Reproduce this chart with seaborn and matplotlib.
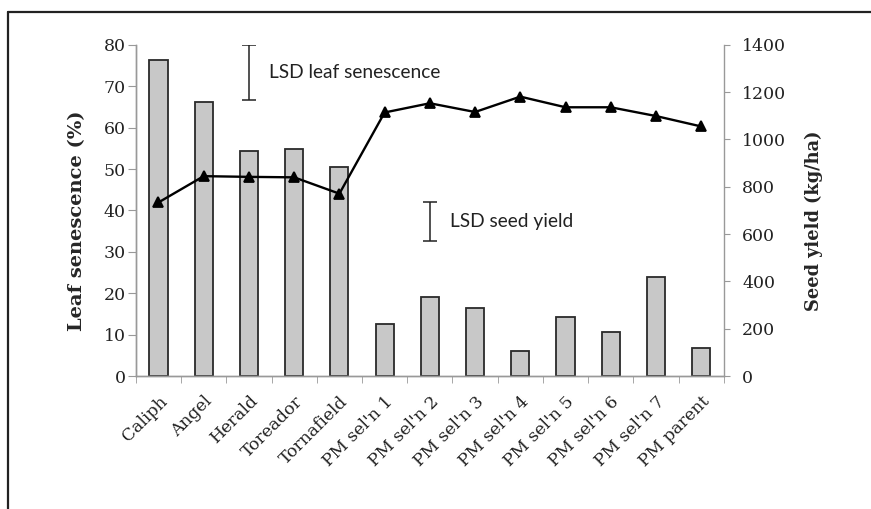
import numpy as np
import pandas as pd
import seaborn as sns
import matplotlib.pyplot as plt
from matplotlib.lines import Line2D

sns.set_style("ticks")
plt.rcParams["font.family"] = ["DejaVu Serif"]

cultivars = ["Caliph", "Angel", "Herald", "Toreador", "Tornafield",
             "PM sel'n 1", "PM sel'n 2", "PM sel'n 3", "PM sel'n 4",
             "PM sel'n 5", "PM sel'n 6", "PM sel'n 7", "PM parent"]
senescence = [76.3, 66.2, 54.3, 54.9, 50.5, 12.5, 19.0, 16.5, 6.0, 14.3, 10.6, 24.0, 6.8]
seed_yield = [734, 845, 842, 840, 771, 1114, 1153, 1116, 1181, 1136, 1136, 1099, 1055]

lsd_leaf = 13.3
lsd_leaf_mid = 73.4
lsd_seed = 165
lsd_seed_mid = 655

df = pd.DataFrame({"cultivar": cultivars, "senescence": senescence, "yield": seed_yield})

fig = plt.figure(figsize=(8.71, 5.09), dpi=100)
ax = fig.add_axes([0.156, 0.261, 0.675, 0.651])
ax2 = ax.twinx()

sns.barplot(data=df, x="cultivar", y="senescence", color="#c8c8c8",
            edgecolor="#2a2a2a", linewidth=1.3, width=0.4, saturation=1, ax=ax)
sns.pointplot(data=df, x="cultivar", y="yield", color="black", markers="^",
              markersize=7, linewidth=1.7, ax=ax2)

ax.set_xlim(-0.5, len(cultivars) - 0.5)
ax2.set_xlim(-0.5, len(cultivars) - 0.5)
ax.set_ylim(0, 80)
ax2.set_ylim(0, 1400)
ax.set_yticks(range(0, 81, 10))
ax2.set_yticks(range(0, 1401, 200))

# LSD bars
ax.errorbar(2, lsd_leaf_mid, yerr=lsd_leaf / 2, color="#222222", capsize=4.7,
            elinewidth=1.1, capthick=1.1)
ax2.errorbar(6, lsd_seed_mid, yerr=lsd_seed / 2, color="#222222", capsize=4.7,
             elinewidth=1.1, capthick=1.1)
ax.text(2.45, lsd_leaf_mid, "LSD leaf senescence", family="Lato", fontsize=13.8,
        va="center", ha="left", color="#222222")
ax2.text(6.45, lsd_seed_mid, "LSD seed yield", family="Lato", fontsize=13.8,
         va="center", ha="left", color="#222222")

ax.set_xlabel("")
ax.set_ylabel("Leaf senescence (%)", fontsize=14, fontweight="bold")
ax2.set_ylabel("Seed yield (kg/ha)", fontsize=12.8, fontweight="bold")
ax.yaxis.set_label_coords(-0.085, 0.468)
ax2.yaxis.set_label_coords(1.138, 0.468)

ax.set_xticks(range(len(cultivars)))
ax.set_xticklabels(cultivars, rotation=45, ha="right", rotation_mode="anchor")
ax.set_xticks(np.arange(-0.5, len(cultivars)), minor=True)
ax.tick_params(axis="x", which="major", length=0, pad=12, labelsize=12.3, colors="#222222")
ax.tick_params(axis="x", which="minor", length=5, color="#999999")
ax.tick_params(axis="y", length=6, pad=1.5, color="#999999", labelsize=12.5, labelcolor="#222222")
ax2.tick_params(axis="y", length=4.3, pad=9, color="#999999", labelsize=12.5, labelcolor="#222222")

for a in (ax, ax2):
    a.spines["top"].set_visible(False)
    for s in ("left", "right", "bottom"):
        a.spines[s].set_color("#999999")
        a.spines[s].set_linewidth(1.0)
ax.spines["right"].set_visible(False)

# outer frame (top and left edges)
fig.add_artist(Line2D([0.0092, 1.0], [0.976, 0.976], transform=fig.transFigure,
                      color="#222222", linewidth=1.6))
fig.add_artist(Line2D([0.0092, 0.0092], [0.0, 0.976], transform=fig.transFigure,
                      color="#222222", linewidth=1.6))

fig.savefig("out.png", dpi=100)
